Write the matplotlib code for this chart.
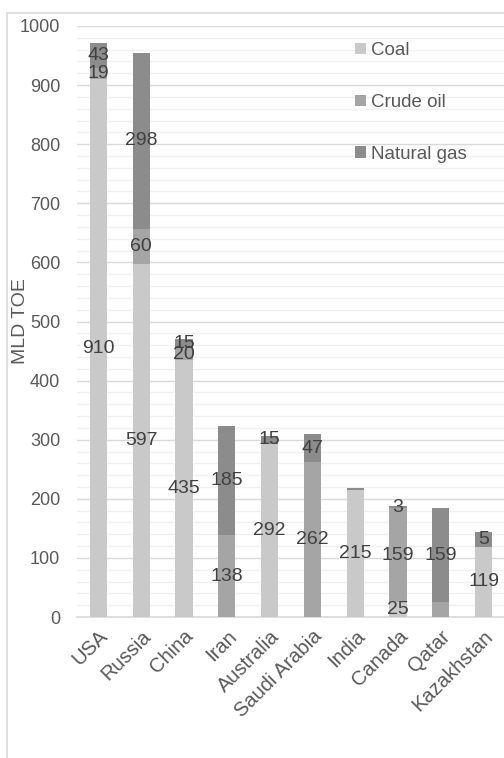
import matplotlib
matplotlib.use("Agg")
import matplotlib.pyplot as plt
from matplotlib.patches import Rectangle
from matplotlib.ticker import MultipleLocator
import numpy as np

plt.rcParams['font.family'] = ['Liberation Sans', 'DejaVu Sans']

countries = ['USA', 'Russia', 'China', 'Iran', 'Australia', 'Saudi Arabia',
             'India', 'Canada', 'Qatar', 'Kazakhstan']
series = ['Coal', 'Crude oil', 'Natural gas']
coal = [910, 597, 435, 0, 292, 0, 215, 25, 0, 119]
crude_oil = [19, 60, 20, 138, 0, 262, 0, 159, 25, 0]
natural_gas = [43, 298, 15, 185, 15, 47, 3, 3, 159, 25]
coal_labels = ['910', '597', '435', '', '292', '', '215', '25', '', '119']
crude_labels = ['19', '60', '20', '138', '', '262', '', '159', '', '']
gas_labels = ['43', '298', '15', '185', '15', '47', '', '3', '159', '5']
colors = ['#c9c9c9', '#a5a5a5', '#8c8c8c']
ylabel = 'MLD TOE'

fig = plt.figure(figsize=(5.04, 7.58), dpi=100)
fig.patches.append(Rectangle((7/504, -0.1), 2, 1.1 - 13/758, transform=fig.transFigure,
                             fill=False, edgecolor='#d9d9d9', linewidth=1.2, zorder=0))
ax = fig.add_axes([77/504, 1 - 617/758, 428/504, (617 - 26)/758])

x = np.arange(len(countries))
data = [coal, crude_oil, natural_gas]
labels = [coal_labels, crude_labels, gas_labels]
bottom = np.zeros(len(countries))
for vals, lab, col, name in zip(data, labels, colors, series):
    vals = np.array(vals, dtype=float)
    ax.bar(x, vals, 0.4, bottom=bottom, color=col, label=name, zorder=3)
    for xi, b, v, t in zip(x, bottom, vals, lab):
        if t:
            ax.text(xi, b + v / 2, t, ha='center', va='center', fontsize=14,
                    color='#404040', zorder=4)
    bottom += vals

ax.set_xlim(-0.5, 9.5)
ax.set_ylim(0, 1000)
ax.yaxis.set_major_locator(MultipleLocator(100))
ax.yaxis.set_minor_locator(MultipleLocator(20))
ax.grid(which='major', axis='y', color='#d9d9d9', linewidth=1.0, zorder=1)
ax.grid(which='minor', axis='y', color='#f0f0f0', linewidth=1.0, zorder=0)
for s in ['top', 'right', 'left']:
    ax.spines[s].set_visible(False)
ax.spines['bottom'].set_color('#d9d9d9')
ax.spines['bottom'].set_linewidth(1.2)
ax.tick_params(axis='both', which='both', length=0, labelcolor='#595959')
ax.tick_params(axis='y', pad=12, labelsize=13)
ax.set_xticks(x)
ax.set_xticklabels(countries, rotation=45, ha='right', rotation_mode='anchor')
ax.tick_params(axis='x', pad=7, labelsize=14.5)
ax.set_ylabel(ylabel, fontsize=14, color='#595959', labelpad=0)
ax.yaxis.set_label_coords(-48/428, 0.5)

leg = ax.legend(loc='upper left', bbox_to_anchor=((346 - 77)/428, 1 - (33 - 26)/591),
                frameon=False, fontsize=13.5, handlelength=0.55, handleheight=0.55,
                handletextpad=0.3, labelspacing=1.85, borderpad=0)
for t in leg.get_texts():
    t.set_color('#595959')

fig.savefig('out.png', dpi=100)
